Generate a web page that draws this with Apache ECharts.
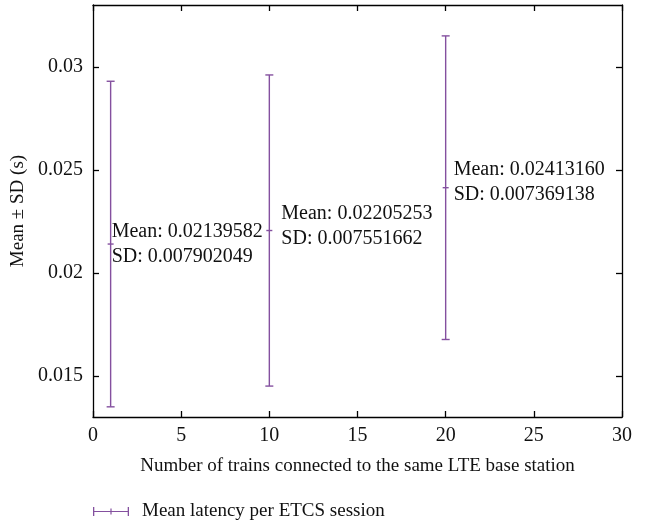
<!DOCTYPE html>
<html><head><meta charset="utf-8">
<script src="https://cdn.jsdelivr.net/npm/echarts@6/dist/echarts.min.js"></script>
<style>html,body{margin:0;padding:0;background:#fff}#c{width:645px;height:524px}</style>
</head><body><div id="c"></div>
<script>
const trainCounts = [1, 10, 20];
const meanLatency = [0.02139582, 0.02205253, 0.02413160];
const sdLatency = [0.007902049, 0.007551662, 0.007369138];
const meanText = ['0.02139582', '0.02205253', '0.02413160'];
const sdText = ['0.007902049', '0.007551662', '0.007369138'];
const yTicks = [0.015, 0.02, 0.025, 0.03];
const seriesName = 'Mean latency per ETCS session';
const xTitle = 'Number of trains connected to the same LTE base station';
const yTitle = 'Mean \u00b1 SD (s)';

const FONT = '"Liberation Serif", "DejaVu Serif", serif';
const PURPLE = '#84509f';
const INK = '#111';
const labelOffsets = [[1, 0], [12, -4], [8, -5]];

const data = trainCounts.map((x, i) => [x, meanLatency[i], sdLatency[i]]);

const axisLineStyle = { color: '#000', width: 1.3 };
const chart = echarts.init(document.getElementById('c'), null, { renderer: 'canvas' });
chart.setOption({
  animation: false,
  backgroundColor: '#fff',
  grid: { left: 93, right: 23, top: 5, bottom: 107, containLabel: false },
  legend: {
    left: 88, top: 497,
    itemWidth: 36, itemHeight: 9,
    textStyle: { fontFamily: FONT, fontSize: 19, color: INK, padding: [0, 0, 0, 8] },
    data: [{ name: seriesName, icon: 'path://M0,3.9H36V5.1H0Z M0,0H1.3V9H0Z M34.7,0H36V9H34.7Z M17.4,1.5H18.6V7.5H17.4Z' }]
  },
  xAxis: [
    {
      type: 'value', min: 0, max: 30, interval: 5, position: 'bottom',
      name: xTitle, nameLocation: 'middle', nameGap: 40,
      nameTextStyle: { fontFamily: FONT, fontSize: 19, color: INK },
      axisLine: { onZero: false, lineStyle: axisLineStyle },
      axisTick: { inside: true, length: 6, lineStyle: axisLineStyle },
      axisLabel: { fontFamily: FONT, fontSize: 20, color: INK, margin: 9 },
      splitLine: { show: false }
    },
    {
      type: 'value', min: 0, max: 30, interval: 5, position: 'top',
      axisLine: { onZero: false, lineStyle: axisLineStyle },
      axisTick: { inside: true, length: 6, lineStyle: axisLineStyle },
      axisLabel: { show: false },
      splitLine: { show: false }
    }
  ],
  yAxis: [
    {
      type: 'value', min: 0.013, max: 0.033, position: 'left',
      name: yTitle, nameLocation: 'middle', nameGap: 63, nameRotate: 90,
      nameTextStyle: { fontFamily: FONT, fontSize: 19, color: INK },
      axisLine: { onZero: false, lineStyle: axisLineStyle },
      axisTick: { inside: true, length: 6, lineStyle: axisLineStyle, customValues: yTicks },
      axisLabel: { fontFamily: FONT, fontSize: 20, color: INK, margin: 10, customValues: yTicks },
      splitLine: { show: false }
    },
    {
      type: 'value', min: 0.013, max: 0.033, position: 'right',
      axisLine: { onZero: false, lineStyle: axisLineStyle },
      axisTick: { inside: true, length: 6, lineStyle: axisLineStyle, customValues: yTicks },
      axisLabel: { show: false, customValues: yTicks },
      splitLine: { show: false }
    }
  ],
  series: [{
    type: 'custom',
    name: seriesName,
    xAxisIndex: 0, yAxisIndex: 0,
    itemStyle: { color: PURPLE },
    encode: { x: 0, y: 1 },
    data: data,
    renderItem: function (params, api) {
      const i = params.dataIndex;
      const x = api.value(0), m = api.value(1), s = api.value(2);
      const top = api.coord([x, m + s]);
      const bot = api.coord([x, m - s]);
      const mid = api.coord([x, m]);
      const st = { stroke: PURPLE, lineWidth: 1.4 };
      const off = labelOffsets[i];
      return {
        type: 'group',
        children: [
          { type: 'line', shape: { x1: top[0], y1: top[1], x2: bot[0], y2: bot[1] }, style: st },
          { type: 'line', shape: { x1: top[0] - 4, y1: top[1], x2: top[0] + 4, y2: top[1] }, style: st },
          { type: 'line', shape: { x1: bot[0] - 4, y1: bot[1], x2: bot[0] + 4, y2: bot[1] }, style: st },
          { type: 'line', shape: { x1: mid[0] - 3, y1: mid[1], x2: mid[0] + 3, y2: mid[1] }, style: st },
          {
            type: 'text',
            style: {
              text: 'Mean: ' + meanText[i] + '\nSD: ' + sdText[i],
              x: mid[0] + off[0], y: mid[1] + off[1],
              fill: INK, fontFamily: FONT, fontSize: 20, lineHeight: 25,
              align: 'left', verticalAlign: 'middle'
            }
          }
        ]
      };
    }
  }]
});
</script>
</body></html>
